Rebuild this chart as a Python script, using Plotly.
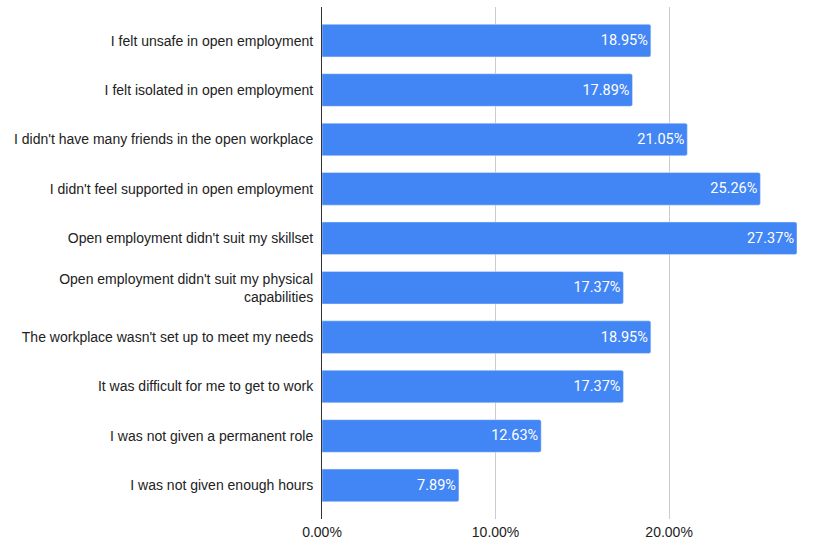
import plotly.graph_objects as go

categories = [
    "I felt unsafe in open employment",
    "I felt isolated in open employment",
    "I didn't have many friends in the open workplace",
    "I didn't feel supported in open employment",
    "Open employment didn't suit my skillset",
    "Open employment didn't suit my physical<br>capabilities",
    "The workplace wasn't set up to meet my needs",
    "It was difficult for me to get to work",
    "I was not given a permanent role",
    "I was not given enough hours",
]
values = [0.1895, 0.1789, 0.2105, 0.2526, 0.2737, 0.1737, 0.1895, 0.1737, 0.1263, 0.0789]
tick_vals = [0, 0.1, 0.2]

fig = go.Figure(
    go.Bar(
        x=values,
        y=categories,
        orientation="h",
        marker=dict(color="#4285F4", cornerradius=2),
        texttemplate="%{x:.2%}",
        textposition="inside",
        insidetextanchor="end",
        textfont=dict(family="Roboto", size=14.5, color="#ffffff"),
        width=0.66,
        hoverinfo="skip",
    )
)

fig.update_layout(
    width=832,
    height=541,
    margin=dict(l=322, r=35, t=7, b=22),
    plot_bgcolor="#ffffff",
    paper_bgcolor="#ffffff",
    showlegend=False,
    font=dict(family="Arial, Liberation Sans", size=14.5, color="#222222"),
)
fig.update_xaxes(
    automargin=False,
    range=[0, 0.2737],
    tickvals=tick_vals,
    tickformat=".2%",
    showgrid=True,
    gridcolor="#cccccc",
    gridwidth=1,
    zeroline=False,
    showline=False,
    ticks="",
    tickfont=dict(size=14, color="#222222"),
    ticklabelstandoff=3,
)
fig.update_yaxes(
    automargin=False,
    type="category",
    categoryorder="array",
    categoryarray=categories,
    range=[9.68, -0.68],
    showgrid=False,
    showline=True,
    linecolor="#333333",
    linewidth=1,
    ticks="",
    ticklabelstandoff=5,
    tickfont=dict(size=14, color="#222222"),
)

fig.write_html("out.html")
